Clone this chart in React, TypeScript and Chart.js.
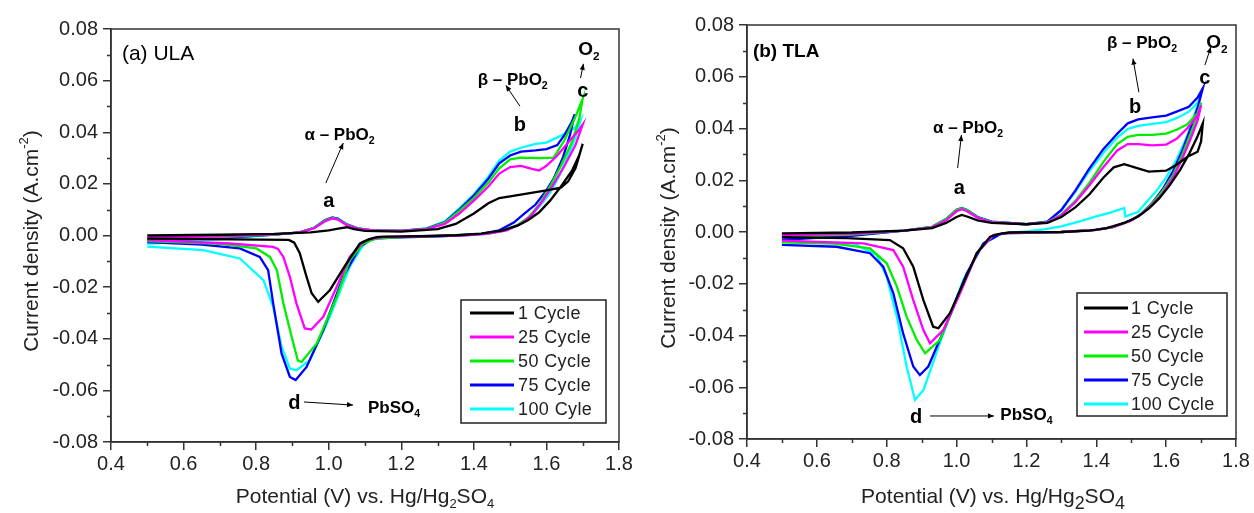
import React, { useEffect, useRef } from "react";
import { Chart, registerables } from "chart.js";
Chart.register(...registerables);

type Pt = [number, number];

// ---------------- DATA: (a) ULA ----------------
const ULA_C1: Pt[] = [
  [0.5, 0.0], [0.7, 0.0003], [0.85, 0.0006], [0.95, 0.0012], [1.0, 0.002], [1.03, 0.0028], [1.05, 0.0032], [1.07, 0.0025], [1.1, 0.0018], [1.2, 0.0015], [1.3, 0.0025], [1.35, 0.0045], [1.4, 0.0085], [1.44, 0.0125], [1.47, 0.0145], [1.5, 0.0152], [1.55, 0.0163], [1.6, 0.0175], [1.64, 0.0185], [1.66, 0.021], [1.68, 0.026], [1.7, 0.0355],
  [1.69, 0.031], [1.67, 0.025], [1.64, 0.019], [1.61, 0.0135], [1.58, 0.009], [1.55, 0.006], [1.52, 0.0038], [1.48, 0.002], [1.42, 0.0007], [1.35, 0.0001], [1.25, -0.0003], [1.15, -0.0004], [1.132, -0.0006], [1.11, -0.0015], [1.086, -0.0031], [1.049, -0.0108], [1.003, -0.0212], [0.971, -0.0257], [0.953, -0.0224], [0.939, -0.016], [0.92, -0.0068], [0.905, -0.0028], [0.89, -0.0017], [0.73, -0.0015], [0.5, -0.0012],
];
const ULA_C25: Pt[] = [
  [0.5, -0.0008], [0.7, -0.0003], [0.85, 0.0004], [0.92, 0.0012], [0.96, 0.0028], [0.99, 0.0055], [1.01, 0.0066], [1.025, 0.0062], [1.05, 0.004], [1.08, 0.0027], [1.12, 0.002], [1.2, 0.0018], [1.27, 0.0025], [1.32, 0.0045], [1.36, 0.0085], [1.4, 0.0135], [1.44, 0.019], [1.47, 0.024], [1.5, 0.0265], [1.53, 0.027], [1.56, 0.0258], [1.58, 0.0252], [1.6, 0.027], [1.63, 0.031], [1.66, 0.036], [1.69, 0.041], [1.7, 0.043],
  [1.68, 0.035], [1.65, 0.027], [1.62, 0.02], [1.59, 0.0135], [1.56, 0.008], [1.53, 0.0045], [1.49, 0.002], [1.44, 0.0007], [1.38, 0.0001], [1.3, -0.0002], [1.2, -0.0005], [1.15, -0.0006], [1.12, -0.0012], [1.095, -0.0024], [1.058, -0.0083], [1.022, -0.0199], [0.985, -0.0315], [0.952, -0.0364], [0.934, -0.036], [0.911, -0.0263], [0.893, -0.016], [0.875, -0.0083], [0.86, -0.0052], [0.847, -0.0044], [0.728, -0.0031], [0.5, -0.0018],
];
const ULA_C50: Pt[] = [
  [0.5, -0.0012], [0.7, -0.0006], [0.85, 0.0003], [0.92, 0.0012], [0.96, 0.003], [0.99, 0.0058], [1.01, 0.0068], [1.025, 0.0064], [1.05, 0.0042], [1.08, 0.0028], [1.12, 0.002], [1.2, 0.0018], [1.27, 0.0026], [1.32, 0.005], [1.36, 0.0095], [1.4, 0.0145], [1.44, 0.0205], [1.47, 0.026], [1.5, 0.0295], [1.53, 0.0302], [1.58, 0.03], [1.62, 0.0302], [1.65, 0.037], [1.68, 0.046], [1.7, 0.053],
  [1.69, 0.045], [1.67, 0.036], [1.64, 0.027], [1.61, 0.019], [1.58, 0.012], [1.55, 0.007], [1.52, 0.004], [1.48, 0.0018], [1.43, 0.0006], [1.36, 0.0001], [1.3, -0.0002], [1.2, -0.0006], [1.13, -0.0012], [1.095, -0.0031], [1.058, -0.0095], [1.022, -0.0238], [0.967, -0.0418], [0.925, -0.049], [0.915, -0.0485], [0.898, -0.0393], [0.875, -0.0263], [0.857, -0.0134], [0.838, -0.0083], [0.801, -0.005], [0.7, -0.0032], [0.5, -0.0022],
];
const ULA_C75: Pt[] = [
  [0.5, -0.002], [0.7, -0.001], [0.85, 0.0003], [0.92, 0.0012], [0.96, 0.003], [0.99, 0.006], [1.01, 0.007], [1.025, 0.0066], [1.05, 0.0043], [1.08, 0.0028], [1.12, 0.002], [1.2, 0.0018], [1.27, 0.0027], [1.32, 0.0052], [1.36, 0.01], [1.4, 0.0155], [1.44, 0.022], [1.47, 0.028], [1.5, 0.031], [1.53, 0.0325], [1.57, 0.033], [1.6, 0.0335], [1.63, 0.035], [1.65, 0.039], [1.67, 0.044], [1.678, 0.047],
  [1.665, 0.039], [1.645, 0.03], [1.62, 0.022], [1.6, 0.0175], [1.57, 0.012], [1.54, 0.0086], [1.51, 0.005], [1.47, 0.002], [1.42, 0.0006], [1.35, 0.0], [1.3, -0.0003], [1.2, -0.0007], [1.12, -0.0012], [1.086, -0.0044], [1.04, -0.016], [0.985, -0.0367], [0.939, -0.0509], [0.909, -0.056], [0.893, -0.0548], [0.87, -0.0457], [0.847, -0.0263], [0.833, -0.0134], [0.81, -0.0083], [0.755, -0.005], [0.65, -0.0035], [0.5, -0.0026],
];
const ULA_C100: Pt[] = [
  [0.5, -0.0032], [0.7, -0.0015], [0.85, 0.0003], [0.92, 0.0012], [0.96, 0.003], [0.99, 0.0058], [1.01, 0.0068], [1.025, 0.0065], [1.05, 0.0043], [1.08, 0.0028], [1.12, 0.002], [1.2, 0.0019], [1.27, 0.0028], [1.32, 0.0055], [1.36, 0.0105], [1.4, 0.016], [1.44, 0.0228], [1.47, 0.029], [1.5, 0.0325], [1.53, 0.034], [1.57, 0.0355], [1.6, 0.036], [1.63, 0.038], [1.66, 0.04], [1.68, 0.042], [1.695, 0.045],
  [1.68, 0.038], [1.66, 0.031], [1.635, 0.023], [1.61, 0.0165], [1.58, 0.011], [1.55, 0.0068], [1.52, 0.004], [1.48, 0.0018], [1.43, 0.0005], [1.35, 0.0], [1.3, -0.0003], [1.2, -0.0005], [1.15, -0.0006], [1.12, -0.0014], [1.095, -0.0037], [1.058, -0.0121], [1.003, -0.0315], [0.948, -0.0483], [0.911, -0.0522], [0.893, -0.0515], [0.87, -0.0431], [0.847, -0.0276], [0.82, -0.0173], [0.755, -0.0089], [0.654, -0.0057], [0.5, -0.0043],
];

// ---------------- DATA: (b) TLA ----------------
const TLA_C1: Pt[] = [
  [0.5, -0.0005], [0.7, -0.0002], [0.85, 0.0005], [0.93, 0.0015], [0.97, 0.0035], [1.0, 0.0058], [1.015, 0.0066], [1.03, 0.006], [1.06, 0.0045], [1.1, 0.0035], [1.2, 0.003], [1.26, 0.0035], [1.3, 0.0058], [1.34, 0.0095], [1.38, 0.0145], [1.42, 0.021], [1.45, 0.025], [1.48, 0.0262], [1.51, 0.025], [1.55, 0.0233], [1.6, 0.0237], [1.63, 0.026], [1.66, 0.029], [1.69, 0.031], [1.7, 0.035], [1.705, 0.042],
  [1.69, 0.037], [1.665, 0.03], [1.64, 0.024], [1.61, 0.018], [1.58, 0.013], [1.55, 0.009], [1.52, 0.006], [1.48, 0.0035], [1.43, 0.0015], [1.38, 0.0005], [1.3, 0.0], [1.2, -0.0001], [1.15, -0.0002], [1.12, -0.0008], [1.096, -0.0018], [1.058, -0.0082], [1.019, -0.0198], [0.981, -0.0314], [0.948, -0.0372], [0.933, -0.0366], [0.905, -0.0263], [0.876, -0.0134], [0.847, -0.0063], [0.809, -0.0031], [0.685, -0.0024], [0.5, -0.002],
];
const TLA_C25: Pt[] = [
  [0.5, -0.0012], [0.7, -0.0007], [0.85, 0.0005], [0.93, 0.0018], [0.97, 0.0045], [1.0, 0.008], [1.015, 0.0088], [1.03, 0.008], [1.06, 0.0055], [1.1, 0.0038], [1.2, 0.003], [1.26, 0.0037], [1.3, 0.0065], [1.34, 0.0115], [1.38, 0.018], [1.42, 0.025], [1.46, 0.0315], [1.49, 0.034], [1.52, 0.034], [1.56, 0.0335], [1.6, 0.0338], [1.63, 0.036], [1.66, 0.04], [1.69, 0.045], [1.7, 0.049],
  [1.69, 0.043], [1.67, 0.036], [1.645, 0.028], [1.62, 0.021], [1.59, 0.015], [1.56, 0.0105], [1.53, 0.007], [1.5, 0.0045], [1.45, 0.002], [1.4, 0.0008], [1.3, 0.0], [1.2, -0.0002], [1.15, -0.0003], [1.105, -0.0012], [1.058, -0.0082], [1.01, -0.0237], [0.962, -0.0379], [0.924, -0.043], [0.905, -0.0379], [0.876, -0.0263], [0.847, -0.0134], [0.819, -0.007], [0.733, -0.0044], [0.5, -0.0033],
];
const TLA_C50: Pt[] = [
  [0.5, -0.0018], [0.7, -0.001], [0.85, 0.0005], [0.93, 0.002], [0.97, 0.005], [1.0, 0.0085], [1.015, 0.0092], [1.03, 0.0084], [1.06, 0.0057], [1.1, 0.0039], [1.2, 0.003], [1.26, 0.0038], [1.3, 0.0068], [1.34, 0.012], [1.38, 0.019], [1.42, 0.027], [1.46, 0.034], [1.49, 0.0368], [1.52, 0.0375], [1.56, 0.0375], [1.6, 0.038], [1.63, 0.0395], [1.66, 0.0415], [1.69, 0.046], [1.7, 0.05],
  [1.69, 0.045], [1.67, 0.038], [1.645, 0.0295], [1.62, 0.022], [1.59, 0.016], [1.56, 0.011], [1.53, 0.0072], [1.5, 0.0045], [1.45, 0.002], [1.4, 0.0008], [1.3, 0.0], [1.2, -0.0002], [1.15, -0.0003], [1.105, -0.0012], [1.058, -0.0082], [1.0, -0.0263], [0.953, -0.0417], [0.91, -0.0469], [0.886, -0.0417], [0.857, -0.0327], [0.829, -0.0211], [0.8, -0.0121], [0.752, -0.0063], [0.65, -0.0045], [0.5, -0.004],
];
const TLA_C75: Pt[] = [
  [0.5, -0.003], [0.7, -0.0015], [0.85, 0.0005], [0.93, 0.002], [0.97, 0.005], [1.0, 0.0086], [1.015, 0.0093], [1.03, 0.0085], [1.06, 0.0058], [1.1, 0.004], [1.2, 0.003], [1.26, 0.004], [1.3, 0.0085], [1.34, 0.016], [1.38, 0.0245], [1.42, 0.032], [1.46, 0.038], [1.49, 0.042], [1.52, 0.0435], [1.56, 0.0443], [1.6, 0.045], [1.63, 0.0465], [1.665, 0.0484], [1.69, 0.052], [1.705, 0.0556],
  [1.69, 0.048], [1.67, 0.04], [1.645, 0.031], [1.62, 0.0235], [1.59, 0.0165], [1.56, 0.0112], [1.53, 0.0072], [1.5, 0.0045], [1.45, 0.002], [1.4, 0.0008], [1.3, 0.0], [1.2, -0.0003], [1.13, -0.0005], [1.077, -0.0044], [1.029, -0.016], [0.972, -0.0353], [0.919, -0.052], [0.895, -0.0553], [0.876, -0.052], [0.847, -0.0392], [0.819, -0.0237], [0.79, -0.0134], [0.752, -0.0082], [0.657, -0.0057], [0.5, -0.005],
];
const TLA_C100: Pt[] = [
  [0.5, -0.0025], [0.7, -0.0012], [0.85, 0.0005], [0.93, 0.002], [0.97, 0.005], [1.0, 0.0085], [1.015, 0.0092], [1.03, 0.0085], [1.06, 0.0058], [1.1, 0.004], [1.2, 0.003], [1.26, 0.004], [1.3, 0.0083], [1.34, 0.0155], [1.38, 0.0235], [1.42, 0.0305], [1.46, 0.0365], [1.49, 0.0398], [1.52, 0.041], [1.56, 0.0418], [1.6, 0.0425], [1.63, 0.044], [1.665, 0.0465], [1.69, 0.05], [1.7, 0.053],
  [1.68, 0.045], [1.66, 0.037], [1.63, 0.028], [1.6, 0.021], [1.57, 0.0155], [1.54, 0.011], [1.52, 0.0078], [1.49, 0.0063], [1.483, 0.006], [1.48, 0.0093], [1.44, 0.0075], [1.4, 0.006], [1.35, 0.004], [1.3, 0.0022], [1.25, 0.001], [1.2, 0.0002], [1.13, -0.0005], [1.077, -0.0044], [1.019, -0.0186], [0.962, -0.0392], [0.905, -0.0611], [0.881, -0.0649], [0.857, -0.052], [0.829, -0.0327], [0.8, -0.0173], [0.771, -0.0089], [0.704, -0.0044], [0.5, -0.0037],
];

const ULA_LABELS = ["1 Cycle", "25 Cycle", "50 Cycle", "75 Cycle", "100 Cyle"];
const TLA_LABELS = ["1 Cycle", "25 Cycle", "50 Cycle", "75 Cycle", "100 Cycle"];
const SERIES_COLORS = ["#000000", "#ff00ff", "#00ee00", "#0000ff", "#00ffff"];
const X_TICKS = [0.4, 0.6, 0.8, 1.0, 1.2, 1.4, 1.6, 1.8];
const X_MINOR = [0.5, 0.7, 0.9, 1.1, 1.3, 1.5, 1.7];
const Y_TICKS = [-0.08, -0.06, -0.04, -0.02, 0.0, 0.02, 0.04, 0.06, 0.08];
const Y_MINOR = [-0.07, -0.05, -0.03, -0.01, 0.01, 0.03, 0.05, 0.07];

// ---------------- rendering helpers ----------------
const FONT = '"Liberation Sans", Arial, Helvetica, sans-serif';
const INK = "#222222";

type Seg = { t: string; s?: "sub" | "sup" };
type Note = { x: number; y: number; segs: Seg[]; size: number; bold?: boolean; align?: "left" | "center" };
type Arrow = { from: Pt; to: Pt };

function segFont(seg: Seg, size: number, bold: boolean, subScale: number) {
  const fs = seg.s ? size * subScale : size;
  return `${bold ? "bold " : ""}${fs}px ${FONT}`;
}

function drawRich(ctx: CanvasRenderingContext2D, segs: Seg[], x: number, y: number, size: number, bold: boolean, align: "left" | "center", subScale = 0.62) {
  let total = 0;
  for (const s of segs) {
    ctx.font = segFont(s, size, bold, subScale);
    total += ctx.measureText(s.t).width;
  }
  let cx = align === "center" ? x - total / 2 : x;
  ctx.textBaseline = "middle";
  ctx.textAlign = "left";
  for (const s of segs) {
    ctx.font = segFont(s, size, bold, subScale);
    const dy = s.s === "sub" ? size * 0.34 : s.s === "sup" ? -size * 0.36 : 0;
    ctx.fillText(s.t, cx, y + dy);
    cx += ctx.measureText(s.t).width;
  }
}

type Panel = {
  series: Pt[][];
  labels: string[];
  left: number;
  width: number;
  area: { l: number; t: number; r: number; b: number };
  yTitle: { x: number; y: number; segs: Seg[] };
  xTitle: { x: number; y: number; segs: Seg[]; subScale: number };
  notes: Note[];
  arrows: Arrow[];
  legend: { x: number; y: number; w: number; h: number; row0: number; rowGap: number; lineX0: number; lineX1: number; textX: number };
};

const ALPHA: Seg[] = [{ t: "α – PbO" }, { t: "2", s: "sub" }];
const BETA: Seg[] = [{ t: "β – PbO" }, { t: "2", s: "sub" }];
const O2: Seg[] = [{ t: "O" }, { t: "2", s: "sub" }];
const PBSO4: Seg[] = [{ t: "PbSO" }, { t: "4", s: "sub" }];
const Y_TITLE: Seg[] = [{ t: "Current density (A.cm" }, { t: "-2", s: "sup" }, { t: ")" }];
const X_TITLE: Seg[] = [{ t: "Potential (V) vs. Hg/Hg" }, { t: "2", s: "sub" }, { t: "SO" }, { t: "4", s: "sub" }];

const PANEL_A: Panel = {
  series: [ULA_C1, ULA_C25, ULA_C50, ULA_C75, ULA_C100],
  labels: ULA_LABELS,
  left: 0,
  width: 650,
  area: { l: 111, t: 29, r: 619, b: 442 },
  yTitle: { x: 32, y: 241, segs: Y_TITLE },
  xTitle: { x: 365, y: 497, segs: X_TITLE, subScale: 0.62 },
  notes: [
    { x: 0.43, y: 0.0703, segs: [{ t: "(a) ULA" }], size: 21, align: "left" },
    { x: 1.03, y: 0.039, segs: ALPHA, size: 17, bold: true },
    { x: 1.0, y: 0.013, segs: [{ t: "a" }], size: 20, bold: true },
    { x: 1.507, y: 0.06, segs: BETA, size: 17, bold: true },
    { x: 1.527, y: 0.0428, segs: [{ t: "b" }], size: 20, bold: true },
    { x: 1.7, y: 0.0556, segs: [{ t: "c" }], size: 20, bold: true },
    { x: 1.717, y: 0.0718, segs: O2, size: 19, bold: true },
    { x: 0.905, y: -0.065, segs: [{ t: "d" }], size: 20, bold: true },
    { x: 1.18, y: -0.067, segs: PBSO4, size: 17, bold: true },
  ],
  arrows: [
    { from: [0.992, 0.0203], to: [1.04, 0.0358] },
    { from: [1.527, 0.0501], to: [1.488, 0.0582] },
    { from: [1.694, 0.061], to: [1.702, 0.0665] },
    { from: [0.932, -0.0645], to: [1.067, -0.0657] },
  ],
  legend: { x: 461, y: 300, w: 145, h: 123, row0: 313, rowGap: 24, lineX0: 470, lineX1: 514, textX: 518 },
};

const PANEL_B: Panel = {
  series: [TLA_C1, TLA_C25, TLA_C50, TLA_C75, TLA_C100],
  labels: TLA_LABELS,
  left: 627,
  width: 627,
  area: { l: 120, t: 25, r: 609, b: 439 },
  yTitle: { x: 42, y: 238, segs: Y_TITLE },
  xTitle: { x: 366, y: 497, segs: X_TITLE, subScale: 0.85 },
  notes: [
    { x: 0.417, y: 0.0696, segs: [{ t: "(b) TLA" }], size: 19, bold: true, align: "left" },
    { x: 1.033, y: 0.04, segs: ALPHA, size: 17, bold: true },
    { x: 1.008, y: 0.017, segs: [{ t: "a" }], size: 20, bold: true },
    { x: 1.531, y: 0.073, segs: BETA, size: 17, bold: true },
    { x: 1.511, y: 0.048, segs: [{ t: "b" }], size: 20, bold: true },
    { x: 1.711, y: 0.0595, segs: [{ t: "c" }], size: 20, bold: true },
    { x: 1.745, y: 0.073, segs: O2, size: 19, bold: true },
    { x: 0.884, y: -0.0715, segs: [{ t: "d" }], size: 20, bold: true },
    { x: 1.2, y: -0.0707, segs: PBSO4, size: 17, bold: true },
  ],
  arrows: [
    { from: [1.003, 0.0247], to: [1.014, 0.0375] },
    { from: [1.522, 0.054], to: [1.505, 0.067] },
    { from: [1.711, 0.0645], to: [1.728, 0.0715] },
    { from: [0.924, -0.0711], to: [1.107, -0.0711] },
  ],
  legend: { x: 450, y: 293, w: 150, h: 123, row0: 308, rowGap: 24, lineX0: 457, lineX1: 501, textX: 504 },
};

function makeDecor(p: Panel) {
  return {
    id: "decor",
    afterDraw(chart: any) {
      const ctx: CanvasRenderingContext2D = chart.ctx;
      const xs = chart.scales.x;
      const ys = chart.scales.y;
      const a = chart.chartArea;
      ctx.save();
      ctx.strokeStyle = "#333333";
      ctx.lineWidth = 1.5;
      ctx.strokeRect(a.left, a.top, a.right - a.left, a.bottom - a.top);
      ctx.beginPath();
      for (const v of X_MINOR) {
        const px = Math.round(xs.getPixelForValue(v)) + 0.5;
        ctx.moveTo(px, a.bottom);
        ctx.lineTo(px, a.bottom + 4);
      }
      for (const v of Y_MINOR) {
        const py = Math.round(ys.getPixelForValue(v)) + 0.5;
        ctx.moveTo(a.left, py);
        ctx.lineTo(a.left - 4, py);
      }
      ctx.stroke();
      ctx.fillStyle = INK;
      ctx.save();
      ctx.translate(p.yTitle.x, p.yTitle.y);
      ctx.rotate(-Math.PI / 2);
      drawRich(ctx, p.yTitle.segs, 0, 0, 21, false, "center");
      ctx.restore();
      drawRich(ctx, p.xTitle.segs, p.xTitle.x, p.xTitle.y, 21, false, "center", p.xTitle.subScale);
      ctx.fillStyle = "#000000";
      for (const n of p.notes) {
        drawRich(ctx, n.segs, xs.getPixelForValue(n.x), ys.getPixelForValue(n.y), n.size, !!n.bold, n.align || "center");
      }
      ctx.strokeStyle = "#000000";
      ctx.lineWidth = 1;
      for (const ar of p.arrows) {
        const x1 = xs.getPixelForValue(ar.from[0]);
        const y1 = ys.getPixelForValue(ar.from[1]);
        const x2 = xs.getPixelForValue(ar.to[0]);
        const y2 = ys.getPixelForValue(ar.to[1]);
        const ang = Math.atan2(y2 - y1, x2 - x1);
        ctx.beginPath();
        ctx.moveTo(x1, y1);
        ctx.lineTo(x2, y2);
        ctx.stroke();
        const hl = 6, hw = 2.6;
        ctx.beginPath();
        ctx.moveTo(x2, y2);
        ctx.lineTo(x2 - hl * Math.cos(ang) + hw * Math.sin(ang), y2 - hl * Math.sin(ang) - hw * Math.cos(ang));
        ctx.lineTo(x2 - hl * Math.cos(ang) - hw * Math.sin(ang), y2 - hl * Math.sin(ang) + hw * Math.cos(ang));
        ctx.closePath();
        ctx.fill();
      }
      const L = p.legend;
      ctx.fillStyle = "#ffffff";
      ctx.fillRect(L.x, L.y, L.w, L.h);
      ctx.strokeStyle = "#222222";
      ctx.lineWidth = 1.5;
      ctx.strokeRect(L.x, L.y, L.w, L.h);
      chart.data.datasets.forEach((ds: any, i: number) => {
        const yy = L.row0 + i * L.rowGap;
        ctx.strokeStyle = ds.borderColor;
        ctx.lineWidth = 3;
        ctx.beginPath();
        ctx.moveTo(L.lineX0, yy);
        ctx.lineTo(L.lineX1, yy);
        ctx.stroke();
        ctx.fillStyle = INK;
        ctx.font = `18px ${FONT}`;
        (ctx as any).letterSpacing = "0.4px";
        ctx.textBaseline = "middle";
        ctx.textAlign = "left";
        ctx.fillText(ds.label, L.textX, yy + 1);
        (ctx as any).letterSpacing = "0px";
      });
      ctx.restore();
    },
  };
}

function PanelChart({ p }: { p: Panel }) {
  const ref = useRef<HTMLCanvasElement>(null);
  useEffect(() => {
    if (!ref.current) return;
    const H = 513;
    const chart = new Chart(ref.current, {
      type: "line",
      data: {
        datasets: p.series.map((s, i) => ({
          label: p.labels[i],
          data: s.map(([x, y]) => ({ x, y })),
          borderColor: SERIES_COLORS[i],
          backgroundColor: SERIES_COLORS[i],
          borderWidth: 2.3,
          pointRadius: 0,
          tension: 0,
          fill: false,
        })),
      },
      options: {
        responsive: false,
        animation: false,
        events: [],
        layout: { padding: { top: p.area.t, right: p.width - p.area.r, left: 0, bottom: 0 } },
        plugins: { legend: { display: false }, tooltip: { enabled: false } },
        scales: {
          x: {
            type: "linear",
            min: 0.4,
            max: 1.8,
            afterBuildTicks: (s: any) => { s.ticks = X_TICKS.map((v) => ({ value: v })); },
            afterFit: (s: any) => { s.height = H - p.area.b; s.paddingLeft = 0; s.paddingRight = 0; },
            grid: { drawOnChartArea: false, drawTicks: true, tickLength: 8, color: "#333333", lineWidth: 1.5 },
            border: { display: true, color: "#333333", width: 1.5 },
            ticks: {
              font: { family: FONT, size: 20 },
              color: INK,
              padding: 2,
              maxRotation: 0,
              autoSkip: false,
              callback: (v: any) => Number(v).toFixed(1),
            },
          },
          y: {
            type: "linear",
            min: -0.08,
            max: 0.08,
            afterBuildTicks: (s: any) => { s.ticks = Y_TICKS.map((v) => ({ value: v })); },
            afterFit: (s: any) => { s.width = p.area.l; s.paddingTop = 0; s.paddingBottom = 0; },
            grid: { drawOnChartArea: false, drawTicks: true, tickLength: 8, color: "#333333", lineWidth: 1.5 },
            border: { display: true, color: "#333333", width: 1.5 },
            ticks: {
              font: { family: FONT, size: 20 },
              color: INK,
              padding: 5,
              autoSkip: false,
              callback: (v: any) => (Math.abs(Number(v)) < 1e-9 ? 0 : Number(v)).toFixed(2),
            },
          },
        },
      },
      plugins: [makeDecor(p)],
    } as any);
    return () => chart.destroy();
  }, [p]);
  return (
    <canvas
      ref={ref}
      width={p.width}
      height={513}
      style={{ position: "absolute", left: p.left, top: 0, width: p.width, height: 513 }}
    />
  );
}

export default function App() {
  return (
    <div style={{ position: "fixed", left: 0, top: 0, width: 1254, height: 513, background: "#ffffff", overflow: "hidden" }}>
      <PanelChart p={PANEL_A} />
      <PanelChart p={PANEL_B} />
    </div>
  );
}
